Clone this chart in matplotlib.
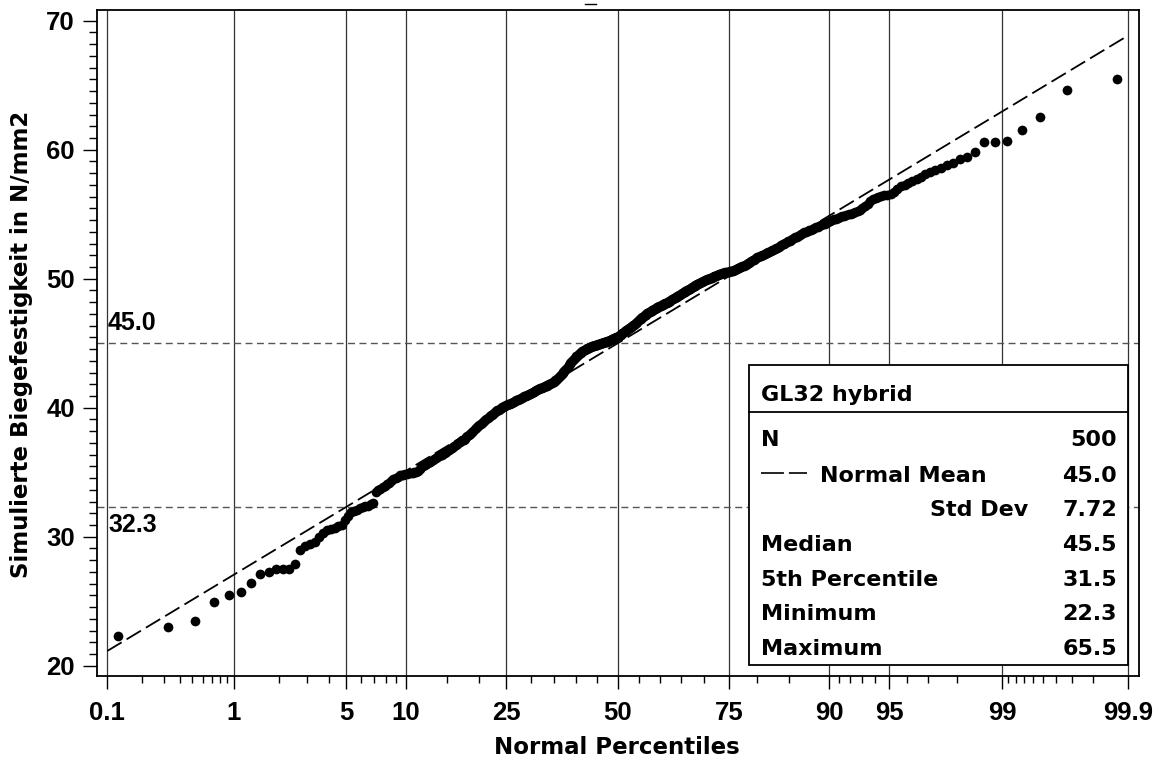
import matplotlib
matplotlib.use("Agg")
import matplotlib.pyplot as plt
from matplotlib.patches import Rectangle
from matplotlib.lines import Line2D
from statistics import NormalDist
import numpy as np

plt.rcParams['lines.scale_dashes'] = False

# ---- data (sorted simulated bending strengths, N/mm2) ----
strength = [
    22.3, 23.0, 23.5, 24.9, 25.5, 25.7, 26.4, 27.1, 27.3, 27.5, 27.5, 27.5, 27.9, 29.0, 29.3, 29.4, 29.6, 30.0, 30.3, 30.5,
    30.6, 30.7, 30.8, 30.9, 31.3, 31.6, 31.9, 32.0, 32.1, 32.2, 32.3, 32.35, 32.4, 32.5, 32.6, 33.5, 33.6, 33.7, 33.85, 33.95,
    34.05, 34.15, 34.3, 34.45, 34.55, 34.65, 34.75, 34.8, 34.82, 34.85, 34.88, 34.9, 34.92, 34.95, 34.98, 35.02, 35.1, 35.25, 35.4, 35.5,
    35.55, 35.6, 35.68, 35.76, 35.84, 35.92, 36.0, 36.08, 36.15, 36.22, 36.3, 36.37, 36.45, 36.52, 36.6, 36.67, 36.75, 36.82, 36.9, 36.97,
    37.04, 37.11, 37.18, 37.25, 37.32, 37.39, 37.46, 37.53, 37.6, 37.7, 37.78, 37.87, 37.96, 38.05, 38.14, 38.23, 38.32, 38.41, 38.5, 38.6,
    38.68, 38.76, 38.84, 38.9, 38.97, 39.04, 39.11, 39.18, 39.26, 39.33, 39.4, 39.47, 39.54, 39.6, 39.67, 39.73, 39.8, 39.86, 39.93, 40.0,
    40.04, 40.07, 40.1, 40.14, 40.18, 40.21, 40.25, 40.28, 40.32, 40.36, 40.4, 40.44, 40.48, 40.52, 40.56, 40.6, 40.63, 40.67, 40.71, 40.75,
    40.79, 40.83, 40.87, 40.9, 40.94, 40.97, 41.01, 41.05, 41.08, 41.12, 41.16, 41.2, 41.24, 41.28, 41.32, 41.36, 41.4, 41.43, 41.47, 41.5,
    41.53, 41.56, 41.59, 41.62, 41.65, 41.68, 41.71, 41.74, 41.77, 41.8, 41.84, 41.88, 41.93, 41.98, 42.03, 42.08, 42.13, 42.18, 42.24, 42.3,
    42.37, 42.45, 42.52, 42.6, 42.68, 42.76, 42.84, 42.92, 43.0, 43.1, 43.19, 43.28, 43.37, 43.46, 43.55, 43.63, 43.71, 43.78, 43.85, 43.92,
    43.98, 44.04, 44.1, 44.16, 44.22, 44.28, 44.33, 44.38, 44.42, 44.46, 44.5, 44.53, 44.56, 44.6, 44.63, 44.66, 44.69, 44.72, 44.75, 44.78,
    44.8, 44.82, 44.84, 44.86, 44.88, 44.9, 44.92, 44.94, 44.96, 44.98, 45.0, 45.02, 45.04, 45.06, 45.08, 45.1, 45.12, 45.15, 45.18, 45.21,
    45.24, 45.27, 45.3, 45.33, 45.36, 45.39, 45.42, 45.45, 45.47, 45.49, 45.52, 45.57, 45.62, 45.67, 45.72, 45.77, 45.82, 45.87, 45.92, 45.97,
    46.02, 46.06, 46.11, 46.15, 46.2, 46.24, 46.29, 46.33, 46.38, 46.42, 46.48, 46.54, 46.6, 46.66, 46.72, 46.78, 46.84, 46.9, 46.96, 47.02,
    47.07, 47.12, 47.17, 47.22, 47.27, 47.32, 47.37, 47.41, 47.45, 47.48, 47.52, 47.56, 47.6, 47.63, 47.67, 47.7, 47.74, 47.77, 47.81, 47.85,
    47.88, 47.91, 47.95, 47.98, 48.01, 48.05, 48.08, 48.11, 48.15, 48.18, 48.22, 48.27, 48.31, 48.35, 48.4, 48.44, 48.48, 48.52, 48.56, 48.6,
    48.64, 48.68, 48.73, 48.77, 48.82, 48.86, 48.9, 48.94, 48.99, 49.03, 49.07, 49.11, 49.16, 49.2, 49.24, 49.28, 49.32, 49.37, 49.41, 49.45,
    49.49, 49.53, 49.57, 49.61, 49.65, 49.69, 49.73, 49.77, 49.81, 49.85, 49.88, 49.91, 49.94, 49.97, 50.0, 50.03, 50.06, 50.09, 50.12, 50.15,
    50.18, 50.21, 50.24, 50.27, 50.3, 50.33, 50.36, 50.39, 50.42, 50.45, 50.47, 50.49, 50.51, 50.53, 50.55, 50.57, 50.59, 50.61, 50.63, 50.66,
    50.7, 50.74, 50.78, 50.82, 50.86, 50.9, 50.94, 50.98, 51.01, 51.04, 51.09, 51.14, 51.19, 51.24, 51.3, 51.36, 51.42, 51.48, 51.54, 51.6,
    51.65, 51.69, 51.74, 51.78, 51.83, 51.87, 51.92, 51.96, 52.01, 52.05, 52.1, 52.15, 52.2, 52.25, 52.3, 52.36, 52.42, 52.48, 52.54, 52.6,
    52.66, 52.72, 52.78, 52.84, 52.9, 52.96, 53.02, 53.08, 53.14, 53.2, 53.27, 53.34, 53.41, 53.48, 53.54, 53.6, 53.65, 53.7, 53.75, 53.8,
    53.86, 53.92, 53.98, 54.04, 54.1, 54.16, 54.22, 54.28, 54.34, 54.4, 54.47, 54.54, 54.6, 54.66, 54.72, 54.78, 54.84, 54.89, 54.94, 54.99,
    55.05, 55.12, 55.19, 55.26, 55.33, 55.45, 55.6, 55.8, 56.0, 56.15, 56.22, 56.3, 56.4, 56.47, 56.52, 56.6, 56.75, 56.95, 57.15, 57.3,
    57.4, 57.6, 57.75, 57.88, 58.1, 58.25, 58.4, 58.6, 58.8, 59.0, 59.3, 59.45, 59.8, 60.6, 60.6, 60.7, 61.5, 62.5, 64.6, 65.5,
]

major_pct = [0.1, 1, 5, 10, 25, 50, 75, 90, 95, 99, 99.9]
major_labels = ["0.1", "1", "5", "10", "25", "50", "75", "90", "95", "99", "99.9"]
minor_pct = [0.2, 0.3, 0.4, 0.5, 0.6, 0.7, 0.8, 0.9, 2, 3, 4, 6, 7, 8, 9, 15, 20,
             30, 35, 40, 45, 55, 60, 65, 70, 80, 85, 91, 92, 93, 94, 96, 97, 98,
             99.1, 99.2, 99.3, 99.4, 99.5, 99.6, 99.7, 99.8]
y_major = [20, 30, 40, 50, 60, 70]

ref_mean = 45.0
ref_std = 7.72
ref_levels = [45.0, 32.3]
ref_level_labels = ["45.0", "32.3"]

inset_title = "GL32 hybrid"
inset_rows = [("N", "500"), ("Normal Mean", "45.0"), ("Std Dev", "7.72"),
              ("Median", "45.5"), ("5th Percentile", "31.5"),
              ("Minimum", "22.3"), ("Maximum", "65.5")]

xlabel = "Normal Percentiles"
ylabel = "Simulierte Biegefestigkeit in N/mm2"

# ---- figure ----
W, H = 1160, 760
fig = plt.figure(figsize=(W / 100, H / 100), dpi=100)


def F(px, py):
    return (px / W, 1 - py / H)


L, R, T, B = 97, 1138.7, 10.3, 676
ax = fig.add_axes([L / W, 1 - B / H, (R - L) / W, (B - T) / H])

nd = NormalDist()
n = len(strength)
pp = (np.arange(1, n + 1) - 0.375) / (n + 0.25)
zx = np.array([nd.inv_cdf(p) for p in pp])

zlo, zhi = nd.inv_cdf(0.001), nd.inv_cdf(0.999)
ax.set_xlim(-3.153, 3.154)
ax.set_ylim(19.2, 70.81)

tickfont = dict(family="Liberation Sans", weight="bold", size=18.5)
ax.set_xticks([nd.inv_cdf(p / 100) for p in major_pct])
ax.set_xticklabels(major_labels, fontdict=tickfont)
ax.set_xticks([nd.inv_cdf(p / 100) for p in minor_pct], minor=True)
ax.set_yticks(y_major)
ax.set_yticklabels([str(v) for v in y_major], fontdict=tickfont)
ymin = [a + k * 10 / 11 for a in y_major[:-1] for k in range(1, 11)]
ax.set_yticks(ymin, minor=True)

ax.tick_params(axis='both', which='both', direction='out', width=1.0, color='black')
ax.tick_params(axis='x', which='major', length=9, pad=9)
ax.tick_params(axis='x', which='minor', length=5)
ax.tick_params(axis='y', which='major', length=10, pad=6)
ax.tick_params(axis='y', which='minor', length=6)
for s in ax.spines.values():
    s.set_linewidth(1.3)
    s.set_color('black')

# vertical grid lines at the major percentiles
ax.grid(axis='x', which='major', color='#333333', linewidth=0.9)
ax.set_axisbelow(True)

# horizontal reference levels
for lvl in ref_levels:
    ax.axhline(lvl, color='#555555', linewidth=1.0, dashes=(5, 3.2), zorder=1.5)
lvlfont = dict(family="Liberation Sans", weight="bold", size=18)
ax.annotate(ref_level_labels[0], xy=(zlo, ref_levels[0]), xytext=(0.5, 6),
            textcoords='offset points', ha='left', va='bottom', **lvlfont)
ax.annotate(ref_level_labels[1], xy=(zlo, ref_levels[1]), xytext=(0.5, -4),
            textcoords='offset points', ha='left', va='top', **lvlfont)

# fitted normal reference line
ax.plot([zlo, zhi], [ref_mean + ref_std * zlo, ref_mean + ref_std * zhi],
        color='black', linewidth=1.3, dashes=(12, 4.2), zorder=2)

# data points
ax.plot(zx, strength, 'o', color='black', markersize=7.0, markeredgewidth=0, zorder=3)

# axis labels
labfont = dict(family="DejaVu Sans", weight="bold", size=16.5)
fig.text(*F(617, 747), xlabel, ha='center', va='center', **labfont)
fig.text(*F(22, 344), ylabel, ha='center', va='center', rotation=90, **labfont)

# small mark at top centre (clipped title remnant in the original)
fig.add_artist(Line2D([585 / W, 596 / W], [1 - 4 / H] * 2, transform=fig.transFigure,
                      color='black', linewidth=1.0))

# inset statistics box
bx0, by0, bx1, by1 = 749.3, 365, 1128.3, 665
box = Rectangle(F(bx0, by1), (bx1 - bx0) / W, (by1 - by0) / H,
                transform=fig.transFigure, facecolor='white', edgecolor='black',
                linewidth=1.3, zorder=10, clip_on=False)
ax.add_patch(box)
ax.add_line(Line2D([bx0 / W, bx1 / W], [1 - 411.7 / H] * 2, transform=fig.transFigure,
                   color='black', linewidth=1.3, zorder=11, clip_on=False))

ifont = dict(family="DejaVu Sans", weight="bold", size=16)
xl, xr = 761, 1117
row_y = [438, 474, 508, 543, 578, 612, 647]
fig.text(*F(xl, 393 + 8), inset_title, ha='left', va='baseline', zorder=12, **ifont)
for (lab, val), yc in zip(inset_rows, row_y):
    yb = yc + 8
    if lab == "Normal Mean":
        fig.text(*F(820, yb), lab, ha='left', va='baseline', zorder=12, **ifont)
        ax.add_line(Line2D([761 / W, 807 / W], [1 - (yc - 1) / H] * 2,
                           transform=fig.transFigure, color='black', linewidth=1.2,
                           dashes=(16.5, 3.6), zorder=12, clip_on=False))
    elif lab == "Std Dev":
        fig.text(*F(1028, yb), lab, ha='right', va='baseline', zorder=12, **ifont)
    else:
        fig.text(*F(xl, yb), lab, ha='left', va='baseline', zorder=12, **ifont)
    fig.text(*F(xr, yb), val, ha='right', va='baseline', zorder=12, **ifont)

fig.savefig("out.png", dpi=100)
